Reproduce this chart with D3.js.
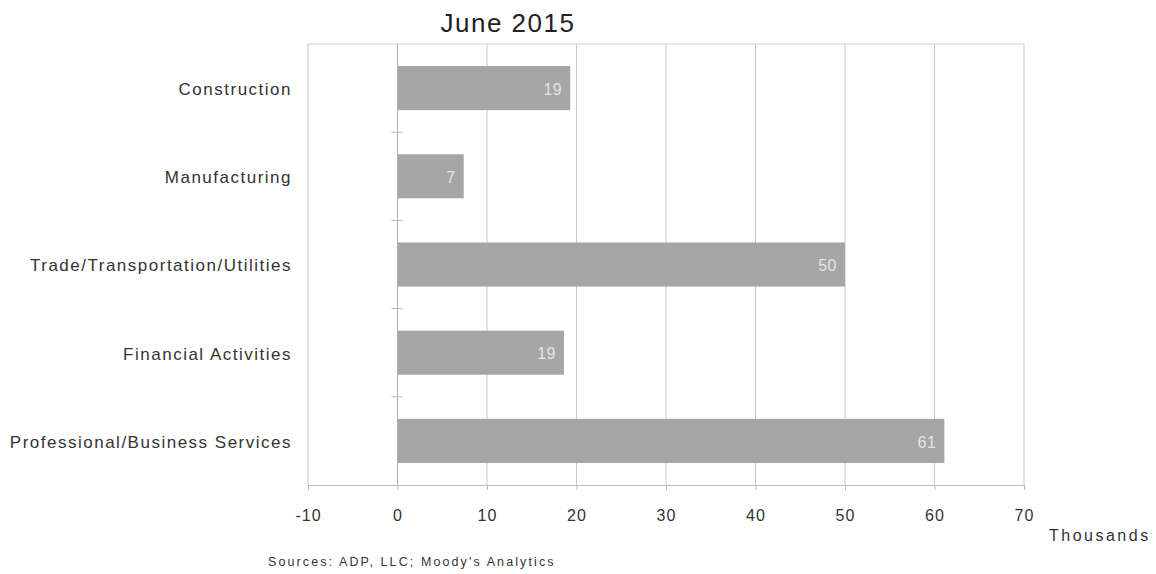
<!DOCTYPE html>
<html>
<head>
<meta charset="utf-8">
<script src="https://cdn.jsdelivr.net/npm/d3@7"></script>
<style>
  html, body { margin: 0; padding: 0; background: #fff; }
  svg { display: block; font-family: "Liberation Sans", Arial, sans-serif; }
</style>
</head>
<body>
<svg id="chart" width="1156" height="574"></svg>
<script>
// Job gains by industry, June 2015 (thousands)
const categories = [
  "Construction",
  "Manufacturing",
  "Trade/Transportation/Utilities",
  "Financial Activities",
  "Professional/Business Services"
];
const values = [19.3, 7.4, 50.0, 18.6, 61.1];
const xTicks = [-10, 0, 10, 20, 30, 40, 50, 60, 70];

const svg = d3.select("#chart");
const margin = { top: 44, right: 132, bottom: 89, left: 308 };
const width = 1156 - margin.left - margin.right;
const height = 574 - margin.top - margin.bottom;

const g = svg.append("g").attr("transform", `translate(${margin.left},${margin.top})`);

const x = d3.scaleLinear().domain([-10, 70]).range([0, width]);
const y = d3.scaleBand().domain(categories).range([0, height]).paddingInner(0.5).paddingOuter(0.25);

// vertical gridlines
g.selectAll("line.grid")
  .data(xTicks)
  .join("line")
  .attr("class", "grid")
  .attr("x1", d => x(d)).attr("x2", d => x(d))
  .attr("y1", 0).attr("y2", height)
  .attr("stroke", "#c8c8c8").attr("stroke-width", 1);

// top border
g.append("line")
  .attr("x1", 0).attr("x2", width).attr("y1", 0).attr("y2", 0)
  .attr("stroke", "#d0d0d0");

// bottom axis
const xAxis = g.append("g")
  .attr("transform", `translate(0,${height})`)
  .call(d3.axisBottom(x).tickValues(xTicks).tickSize(5).tickPadding(20).tickFormat(d => String(d)));
xAxis.select(".domain").attr("stroke", "#bbbbbb");
xAxis.selectAll(".tick line").attr("stroke", "#bbbbbb");
xAxis.selectAll("text")
  .attr("font-size", 16)
  .attr("letter-spacing", "1px")
  .attr("fill", "#333");

// bars
g.selectAll("rect.bar")
  .data(categories)
  .join("rect")
  .attr("class", "bar")
  .attr("x", x(0))
  .attr("y", d => y(d))
  .attr("width", (d, i) => x(values[i]) - x(0))
  .attr("height", y.bandwidth())
  .attr("fill", "#a6a6a6");

// zero axis with category separators
g.append("line")
  .attr("x1", x(0)).attr("x2", x(0)).attr("y1", 0).attr("y2", height)
  .attr("stroke", "#b0b0b0");
const seps = categories.slice(1).map(c => y(c) - y.step() * y.paddingInner() / 2);
g.selectAll("line.sep")
  .data(seps)
  .join("line")
  .attr("class", "sep")
  .attr("x1", x(0) - 6).attr("x2", x(0) + 5)
  .attr("y1", d => d).attr("y2", d => d)
  .attr("stroke", "#b8b8b8");

// value labels inside bars
g.selectAll("text.val")
  .data(categories)
  .join("text")
  .attr("class", "val")
  .attr("x", (d, i) => x(values[i]) - 8)
  .attr("y", d => y(d) + y.bandwidth() / 2 + 1)
  .attr("dy", "0.35em")
  .attr("text-anchor", "end")
  .attr("font-size", 16)
  .attr("letter-spacing", "0.5px")
  .attr("fill", "#e4e4e4")
  .text((d, i) => d3.format(".0f")(values[i]));

// category labels
g.selectAll("text.cat")
  .data(categories)
  .join("text")
  .attr("class", "cat")
  .attr("x", -16)
  .attr("y", d => y(d) + y.bandwidth() / 2 + 1)
  .attr("dy", "0.35em")
  .attr("text-anchor", "end")
  .attr("font-size", 17)
  .attr("letter-spacing", "1.5px")
  .attr("fill", "#333")
  .text(d => d);

// title
svg.append("text")
  .attr("x", 508).attr("y", 32)
  .attr("text-anchor", "middle")
  .attr("font-size", 26)
  .attr("letter-spacing", "1.5px")
  .attr("fill", "#222")
  .text("June 2015");

// unit label
svg.append("text")
  .attr("x", 1049).attr("y", 541)
  .attr("font-size", 16)
  .attr("letter-spacing", "2.5px")
  .attr("fill", "#333")
  .text("Thousands");

// source note
svg.append("text")
  .attr("x", 268).attr("y", 566)
  .attr("font-size", 12.5)
  .attr("letter-spacing", "2.1px")
  .attr("fill", "#333")
  .text("Sources: ADP, LLC; Moody's Analytics");
</script>
</body>
</html>
